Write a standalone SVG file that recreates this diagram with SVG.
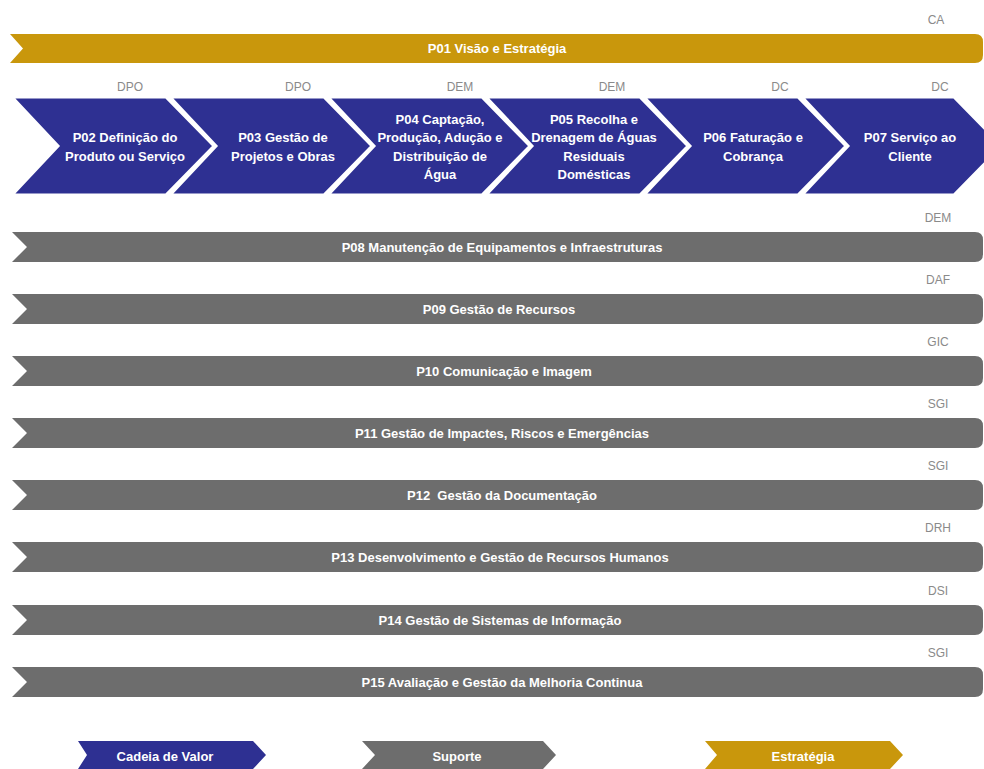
<svg xmlns="http://www.w3.org/2000/svg" width="984" height="769" viewBox="0 0 984 769">
<style>
.blue{fill:#2e3092;stroke:#fff;stroke-width:3;stroke-linejoin:miter}
.gray{fill:#6d6d6d}
.gold{fill:#c9970c}
.t{font-family:"Liberation Sans",Arial,sans-serif;font-size:13px;font-weight:bold;fill:#fff;text-anchor:middle}
.lbl{font-family:"Liberation Sans",Arial,sans-serif;font-size:12px;fill:#8a8a8a;text-anchor:middle}
</style>
<rect width="984" height="769" fill="#fff"/>
<defs>
<path id="bar" d="M12,0 H975 Q983,0 983,8 V22 Q983,30 975,30 H12 L27,15 Z"/>
</defs>

<g id="p01">
<text class="lbl" x="936" y="24">CA</text>
<path class="gold" d="M10,34 H975 Q983,34 983,42 V55 Q983,63 975,63 H10 L23,48.5 Z"/>
<text class="t" x="497" y="53">P01 Visão e Estratégia</text>
</g>

<g id="p02">
<text class="lbl" x="130" y="91">DPO</text>
<path class="blue" d="M12,97 H166 L214,146 L166,195 H12 L58,146 Z"/>
<text class="t" x="125" y="142">P02 Definição do</text>
<text class="t" x="125" y="161">Produto ou Serviço</text>
</g>
<g id="p03">
<text class="lbl" x="298" y="91">DPO</text>
<path class="blue" d="M170,97 H324 L372,146 L324,195 H170 L216,146 Z"/>
<text class="t" x="283" y="142">P03 Gestão de</text>
<text class="t" x="283" y="161">Projetos e Obras</text>
</g>
<g id="p04">
<text class="lbl" x="460" y="91">DEM</text>
<path class="blue" d="M328,97 H482 L530,146 L482,195 H328 L374,146 Z"/>
<text class="t" x="440" y="124">P04 Captação,</text>
<text class="t" x="440" y="142">Produção, Adução e</text>
<text class="t" x="440" y="161">Distribuição de</text>
<text class="t" x="440" y="179">Água</text>
</g>
<g id="p05">
<text class="lbl" x="612" y="91">DEM</text>
<path class="blue" d="M486,97 H640 L688,146 L640,195 H486 L532,146 Z"/>
<text class="t" x="594" y="124">P05 Recolha e</text>
<text class="t" x="594" y="142">Drenagem de Águas</text>
<text class="t" x="594" y="161">Residuais</text>
<text class="t" x="594" y="179">Domésticas</text>
</g>
<g id="p06">
<text class="lbl" x="780" y="91">DC</text>
<path class="blue" d="M644,97 H798 L846,146 L798,195 H644 L690,146 Z"/>
<text class="t" x="753" y="142">P06 Faturação e</text>
<text class="t" x="753" y="161">Cobrança</text>
</g>
<g id="p07">
<text class="lbl" x="940" y="91">DC</text>
<path class="blue" d="M802,97 H954 L1002,146 L954,195 H802 L848,146 Z"/>
<text class="t" x="910" y="142">P07 Serviço ao</text>
<text class="t" x="910" y="161">Cliente</text>
</g>

<g id="p08">
<text class="lbl" x="938" y="222">DEM</text>
<use href="#bar" class="gray" y="232"/>
<text class="t" x="502" y="251.5">P08 Manutenção de Equipamentos e Infraestruturas</text>
</g>
<g id="p09">
<text class="lbl" x="938" y="284">DAF</text>
<use href="#bar" class="gray" y="294"/>
<text class="t" x="499" y="313.5">P09 Gestão de Recursos</text>
</g>
<g id="p10">
<text class="lbl" x="938" y="346">GIC</text>
<use href="#bar" class="gray" y="356"/>
<text class="t" x="504" y="375.5">P10 Comunicação e Imagem</text>
</g>
<g id="p11">
<text class="lbl" x="938" y="408">SGI</text>
<use href="#bar" class="gray" y="418"/>
<text class="t" x="502" y="437.5">P11 Gestão de Impactes, Riscos e Emergências</text>
</g>
<g id="p12">
<text class="lbl" x="938" y="470">SGI</text>
<use href="#bar" class="gray" y="480"/>
<text class="t" x="502" y="499.5">P12&#160; Gestão da Documentação</text>
</g>
<g id="p13">
<text class="lbl" x="938" y="532">DRH</text>
<use href="#bar" class="gray" y="542"/>
<text class="t" x="500" y="561.5">P13 Desenvolvimento e Gestão de Recursos Humanos</text>
</g>
<g id="p14">
<text class="lbl" x="938" y="595">DSI</text>
<use href="#bar" class="gray" y="605"/>
<text class="t" x="500" y="624.5">P14 Gestão de Sistemas de Informação</text>
</g>
<g id="p15">
<text class="lbl" x="938" y="657">SGI</text>
<use href="#bar" class="gray" y="667"/>
<text class="t" x="502" y="686.5">P15 Avaliação e Gestão da Melhoria Continua</text>
</g>

<g id="legend-cadeia">
<path fill="#2e3092" d="M78,741 H253 L266,755 L253,769 H78 L87,755 Z"/>
<text class="t" x="165" y="761">Cadeia de Valor</text>
</g>
<g id="legend-suporte">
<path class="gray" d="M362,741 H543 L556,755 L543,769 H362 L375,755 Z"/>
<text class="t" x="457" y="761">Suporte</text>
</g>
<g id="legend-estrategia">
<path class="gold" d="M705,741 H890 L903,755 L890,769 H705 L717,755 Z"/>
<text class="t" x="803" y="761">Estratégia</text>
</g>
<g id="connectors"/>
</svg>
